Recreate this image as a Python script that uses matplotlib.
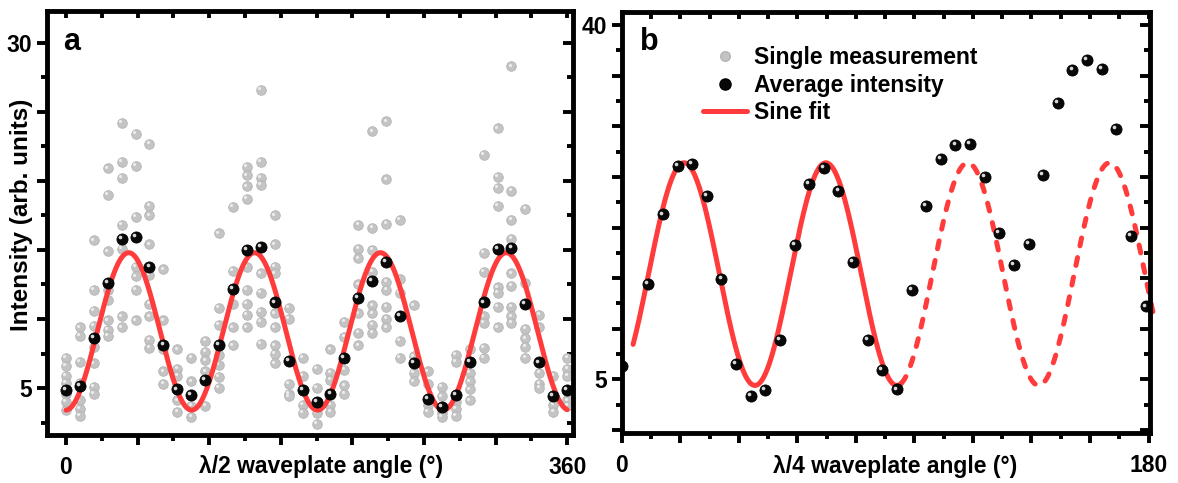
import numpy as np
import matplotlib.pyplot as plt
from matplotlib.lines import Line2D
from matplotlib.transforms import ScaledTranslation

plt.rcParams['font.family'] = ['Liberation Sans', 'DejaVu Sans']
plt.rcParams['font.weight'] = 'bold'

# half-wave plate scan
hwp_angle = np.arange(0, 361, 10)
hwp_single = [
    [7.2, 6.6, 5.9, 5.4, 4.6, 4.0, 3.4],
    [9.4, 8.8, 6.9, 5.4, 4.1, 3.5, 3.0],
    [15.7, 12.1, 10.6, 9.5, 8.0, 6.8, 5.1, 4.6],
    [20.9, 19.0, 14.9, 12.1, 11.4, 9.9, 9.2, 8.8],
    [24.2, 21.4, 20.2, 16.8, 15.1, 10.2, 9.4],
    [23.4, 21.1, 17.4, 13.8, 13.1, 12.1, 9.9],
    [22.7, 18.2, 17.5, 15.4, 13.2, 11.1, 10.2, 8.5, 7.9],
    [13.6, 9.9, 7.8, 6.2, 5.3],
    [7.8, 6.4, 5.9, 4.1, 3.3],
    [7.2, 5.5, 3.7, 2.9],
    [8.4, 7.6, 7.0, 6.2, 3.7],
    [16.2, 10.8, 9.6, 7.4, 6.7, 5.8, 5.0],
    [18.1, 13.5, 11.1, 9.4, 8.1],
    [21.0, 20.4, 19.6, 18.7, 13.8, 12.1, 11.1, 10.3, 9.4],
    [26.6, 21.4, 20.2, 19.7, 13.3, 11.9, 10.5, 9.8, 8.2],
    [17.5, 15.4, 13.8, 13.3, 10.4, 9.4, 8.1, 7.5, 6.8],
    [10.8, 10.0, 5.3, 4.6, 4.4],
    [7.2, 5.9, 3.8, 3.2],
    [6.4, 5.0, 3.2, 2.4],
    [7.8, 6.1, 5.6, 3.8, 3.3],
    [9.8, 8.7, 6.3, 5.2, 4.6],
    [16.8, 15.1, 14.4, 12.5, 10.4, 9.0, 8.1],
    [23.6, 16.6, 15.0, 13.4, 11.0, 10.4, 9.6, 9.0],
    [24.3, 20.1, 16.9, 12.7, 12.1, 10.9, 10.0, 9.4],
    [17.2, 12.9, 11.9, 8.4, 7.2],
    [11.0, 7.3, 6.1, 5.5],
    [6.2, 5.3, 3.8, 3.3],
    [5.1, 4.4, 3.2, 2.9],
    [7.4, 6.9, 4.0, 3.5, 3.0],
    [7.8, 6.1, 5.5, 4.9, 4.1],
    [21.9, 14.8, 13.4, 10.2, 9.7, 7.9, 7.2],
    [23.8, 20.3, 19.5, 18.2, 12.3, 11.9, 10.9, 9.4],
    [28.3, 19.3, 17.2, 15.8, 13.3, 12.4, 10.9, 10.2, 9.7],
    [18.0, 12.6, 9.3, 8.6, 8.0, 7.2],
    [10.3, 9.4, 6.1, 5.3, 5.0],
    [5.9, 3.8, 3.3],
    [7.2, 6.4, 5.9, 4.1, 3.7],
]
hwp_mean = [4.86, 5.15, 8.65, 12.6, 15.8, 15.95, 13.75, 8.15, 4.9, 4.5,
            5.6, 8.15, 12.15, 15.0, 15.2, 11.2, 6.95, 4.86, 4.0, 4.6,
            7.15, 11.5, 12.75, 14.1, 10.25, 6.8, 4.2, 3.65, 4.5, 6.9,
            11.2, 15.05, 15.15, 11.1, 6.85, 4.4, 4.86]
# sine fit: offset, amplitude, period (deg), position of first maximum (deg)
hwp_fit = (9.1, 5.7, 90.4, 45.1)

# quarter-wave plate scan
qwp_angle = [0, 9, 14, 19, 24, 29, 34, 39, 44, 49, 54, 59, 64, 69, 74, 79, 84, 89,
             94, 99, 104, 109, 114, 119, 124, 129, 134, 139, 144, 149, 154, 159,
             164, 169, 174, 179]
qwp_mean = [6.3, 14.4, 21.3, 26.1, 26.3, 23.1, 14.9, 6.5, 3.35, 3.95, 8.9, 18.3,
            24.3, 25.9, 23.6, 16.6, 8.9, 5.9, 4.0, 13.8, 22.1, 26.8, 28.2, 28.3,
            25.0, 19.5, 16.3, 18.4, 25.2, 32.3, 35.6, 36.6, 35.7, 29.7, 19.2, 12.2]
qwp_fit = (15.4, 11.0, 48.5, 21.2)
qwp_fit_range = (3.8, 95.5)      # fitted part, drawn solid
qwp_extrap_range = (95.5, 181.5)  # continuation, drawn dashed

RED = '#ff3b3b'
GREY = '#c4c4c4'

fig = plt.figure(figsize=(11.78, 4.83), dpi=100)
ax_a = fig.add_axes([0.0399, 0.0994, 0.4465, 0.8778])
ax_b = fig.add_axes([0.528, 0.1035, 0.4482, 0.8717])


def sine(theta, p):
    off, amp, per, peak = p
    return off + amp * np.cos(2 * np.pi * (theta - peak) / per)


def spheres(ax, x, y, ms, base, edge, shine, z):
    ax.plot(x, y, 'o', ls='none', ms=ms, color=base, mec=edge, mew=0.6, zorder=z)
    d = ms * 0.17 / 72
    glint = ax.transData + ScaledTranslation(-d, d, fig.dpi_scale_trans)
    ax.plot(x, y, 'o', ls='none', ms=ms * 0.33, color=shine, mew=0,
            transform=glint, zorder=z + 0.1)


def style_axes(ax, xlim, ylim, xmajor, ymajor, xlabels, ylabels):
    ax.set_xlim(*xlim)
    ax.set_ylim(*ylim)
    for s in ax.spines.values():
        s.set_linewidth(3.5)
        s.set_zorder(10)
    xminor = (xmajor[:-1] + xmajor[1:]) / 2
    yminor = (ymajor[:-1] + ymajor[1:]) / 2
    yminor = np.concatenate([yminor, [ymajor[0] - (ymajor[1] - ymajor[0]) / 2]])
    yminor = yminor[(yminor > ylim[0]) & (yminor < ylim[1])]
    ax.set_xticks(xmajor)
    ax.set_xticks(xminor, minor=True)
    ax.set_yticks(ymajor)
    ax.set_yticks(yminor, minor=True)
    ax.set_xticklabels(xlabels)
    ax.set_yticklabels(ylabels)
    ax.tick_params(which='major', direction='out', length=7, width=2.8,
                   labelsize=16.5, pad=4)
    ax.tick_params(which='minor', direction='out', length=4, width=2.8)
    ax.tick_params(axis='x', which='major', pad=8)
    top = ax.secondary_xaxis('top')
    top.set_xticks(np.sort(np.concatenate([xmajor, xminor])))
    top.tick_params(direction='in', length=5, width=2.8, labeltop=False)
    right = ax.secondary_yaxis('right')
    right.set_yticks(ymajor)
    right.set_yticks(yminor, minor=True)
    right.tick_params(which='major', direction='in', length=7, width=2.8, labelright=False)
    right.tick_params(which='minor', direction='in', length=4, width=2.8)
    for s in list(top.spines.values()) + list(right.spines.values()):
        s.set_visible(False)


# panel a
for ang, vals in zip(hwp_angle, hwp_single):
    spheres(ax_a, [ang] * len(vals), vals, 6.9, GREY, '#b4b4b4', '#ececec', 2)
th = np.linspace(0, 360, 800)
ax_a.plot(th, sine(th, hwp_fit), color=RED, lw=3.6, zorder=3, solid_capstyle='round')
spheres(ax_a, hwp_angle, hwp_mean, 8.0, '#080808', 'black', '#d8d8d8', 4)

xa = np.linspace(0, 360, 8)
ya = np.arange(5, 31, 5)
style_axes(ax_a, (-13.6, 364.2), (1.6, 32.3), xa, ya,
           ['0'] + [''] * 6 + ['360'], ['5', '', '', '', '', '30'])
ax_a.set_xlabel('λ/2 waveplate angle (°)', fontsize=16.5, fontweight='bold')
ax_a.xaxis.set_label_coords(0.522, -0.048)
ax_a.set_ylabel('Intensity (arb. units)', fontsize=17.5, fontweight='bold')
ax_a.yaxis.set_label_coords(-0.027, 0.519)
ax_a.text(0.030, 0.908, 'a', transform=ax_a.transAxes, fontsize=22, fontweight='bold')

# panel b
t1 = np.linspace(*qwp_fit_range, 400)
t2 = np.linspace(*qwp_extrap_range, 400)
ax_b.plot(t1, sine(t1, qwp_fit), color=RED, lw=3.6, zorder=3, solid_capstyle='round')
ax_b.plot(t2, sine(t2, qwp_fit), color=RED, lw=3.6, zorder=3,
          ls=(0, (1.6, 2.4)), dash_capstyle='round', clip_on=False)
spheres(ax_b, qwp_angle, qwp_mean, 8.0, '#080808', 'black', '#d8d8d8', 4)

xb = np.arange(0, 181, 20)
yb = np.arange(0, 41, 5)
style_axes(ax_b, (0, 180.5), (-0.3, 41.3), xb, yb,
           ['0'] + [''] * 8 + ['180'], ['', '5', '', '', '', '', '', '', '40'])
ax_b.set_xlabel('λ/4 waveplate angle (°)', fontsize=16.5, fontweight='bold')
ax_b.xaxis.set_label_coords(0.517, -0.053)
ax_b.text(0.034, 0.91, 'b', transform=ax_b.transAxes, fontsize=22, fontweight='bold')

handles = [
    Line2D([], [], marker='o', ls='none', ms=6.9, color=GREY, mec='#b4b4b4'),
    Line2D([], [], marker='o', ls='none', ms=8.0, color='#080808', mec='black'),
    Line2D([], [], color=RED, lw=3.6, solid_capstyle='round'),
]
ax_b.legend(handles, ['Single measurement', 'Average intensity', 'Sine fit'],
            loc='upper left', bbox_to_anchor=(0.153, 0.919), frameon=False,
            fontsize=16.5, handlelength=1.92, handletextpad=0.3, labelspacing=0.2,
            borderpad=0, borderaxespad=0)

fig.savefig('out.png', dpi=100)
